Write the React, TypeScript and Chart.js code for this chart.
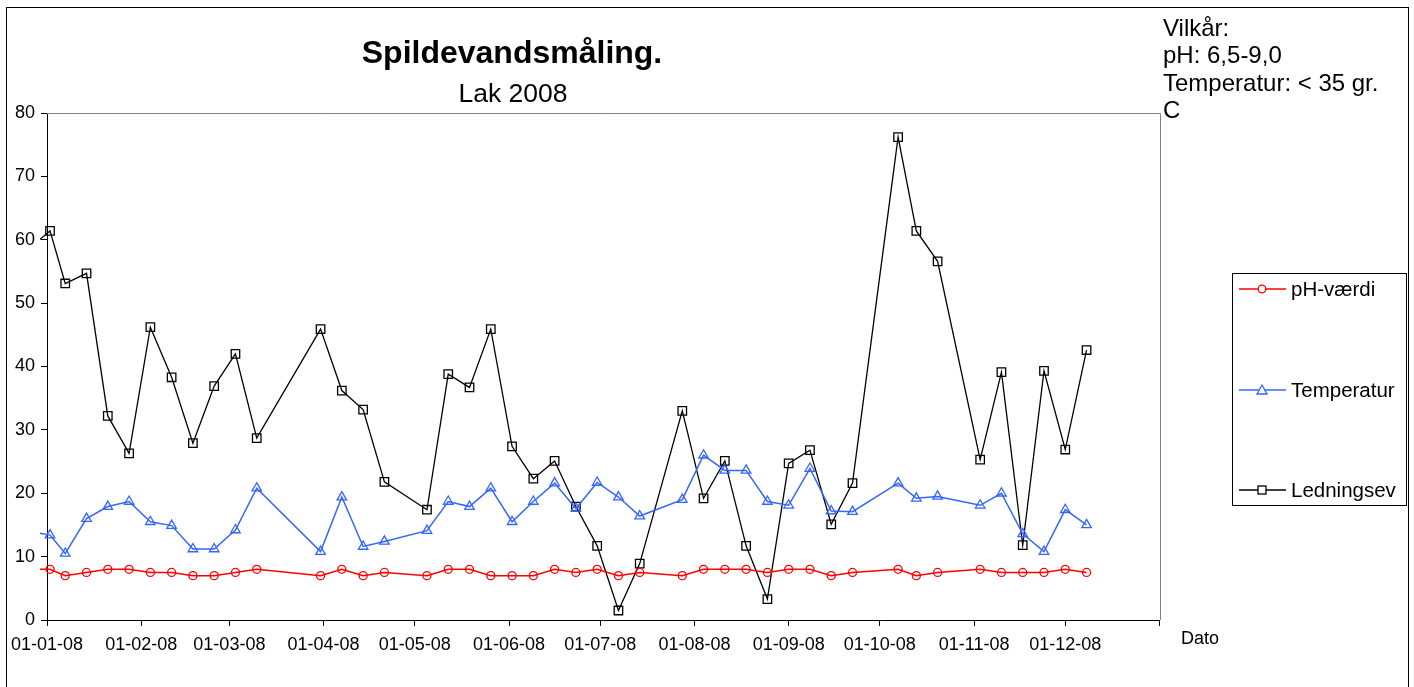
import React, { useEffect, useRef } from "react";
import { Chart, registerables } from "chart.js";

Chart.register(...registerables);

// Measurement dates (DD-MM-YY). The first one lies just before the axis start.
const DATES = [
  "27-12-07",
  "02-01-08", "07-01-08", "14-01-08", "21-01-08", "28-01-08",
  "04-02-08", "11-02-08", "18-02-08", "25-02-08",
  "03-03-08", "10-03-08", "31-03-08",
  "07-04-08", "14-04-08", "21-04-08",
  "05-05-08", "12-05-08", "19-05-08", "26-05-08",
  "02-06-08", "09-06-08", "16-06-08", "23-06-08", "30-06-08",
  "07-07-08", "14-07-08", "28-07-08",
  "04-08-08", "11-08-08", "18-08-08", "25-08-08",
  "01-09-08", "08-09-08", "15-09-08", "22-09-08",
  "07-10-08", "13-10-08", "20-10-08",
  "03-11-08", "10-11-08", "17-11-08", "24-11-08",
  "01-12-08", "08-12-08",
];

const PH_VALUES = [
  8.0,
  8.0, 7.0, 7.5, 8.0, 8.0,
  7.5, 7.5, 7.0, 7.0,
  7.5, 8.0, 7.0,
  8.0, 7.0, 7.5,
  7.0, 8.0, 8.0, 7.0,
  7.0, 7.0, 8.0, 7.5, 8.0,
  7.0, 7.5, 7.0,
  8.0, 8.0, 8.0, 7.5,
  8.0, 8.0, 7.0, 7.5,
  8.0, 7.0, 7.5,
  8.0, 7.5, 7.5, 7.5,
  8.0, 7.5,
];

const TEMP_VALUES = [
  13.9,
  13.4, 10.5, 16.0, 17.9, 18.7,
  15.5, 14.9, 11.2, 11.2,
  14.2, 20.8, 10.8,
  19.4, 11.6, 12.4,
  14.1, 18.7, 17.9, 20.8,
  15.5, 18.7, 21.6, 17.6, 21.7,
  19.4, 16.4, 19.0,
  26.0, 23.6, 23.6, 18.7,
  18.1, 23.9, 17.2, 17.1,
  21.6, 19.2, 19.5,
  18.1, 20.0, 13.6, 10.8,
  17.4, 15.0,
];

const LEDNING_VALUES = [
  59.0,
  61.4, 53.1, 54.7, 32.2, 26.3,
  46.2, 38.3, 27.9, 36.9,
  42.0, 28.7, 45.9,
  36.2, 33.2, 21.8,
  17.4, 38.8, 36.7, 45.9,
  27.4, 22.3, 25.1, 17.9, 11.7,
  1.5, 8.9, 33.0,
  19.2, 25.1, 11.7, 3.3,
  24.7, 26.8, 15.1, 21.6,
  76.2, 61.4, 56.6,
  25.3, 39.1, 11.8, 39.3,
  26.9, 42.6,
];

const X_TICK_LABELS = [
  "01-01-08", "01-02-08", "01-03-08", "01-04-08", "01-05-08", "01-06-08",
  "01-07-08", "01-08-08", "01-09-08", "01-10-08", "01-11-08", "01-12-08",
];
const AXIS_START = "01-01-08";
const AXIS_END = "01-01-09";

const Y_MIN = 0;
const Y_MAX = 80;
const Y_STEP = 10;

const SERIES_NAMES = ["pH-værdi", "Temperatur", "Ledningsev"];

const FONT = "'Liberation Sans', Arial, sans-serif";

function dayOffset(s: string): number {
  const [dd, mm, yy] = s.split("-").map(Number);
  const t = Date.UTC(2000 + yy, mm - 1, dd);
  const [d0, m0, y0] = AXIS_START.split("-").map(Number);
  const t0 = Date.UTC(2000 + y0, m0 - 1, d0);
  return Math.round((t - t0) / 86400000);
}

const framePlugin = {
  id: "plotFrame",
  beforeDatasetsDraw(chart: any) {
    const { ctx, chartArea } = chart;
    ctx.save();
    ctx.strokeStyle = "#808080";
    ctx.lineWidth = 1;
    ctx.beginPath();
    ctx.moveTo(chartArea.left, Math.round(chartArea.top) + 0.5);
    ctx.lineTo(Math.round(chartArea.right) + 0.5, Math.round(chartArea.top) + 0.5);
    ctx.lineTo(Math.round(chartArea.right) + 0.5, chartArea.bottom);
    ctx.stroke();
    ctx.restore();
  },
};

function LegendMarker({ kind, color }: { kind: string; color: string }) {
  return (
    <svg width={48} height={16} style={{ position: "absolute", left: 6, top: -8 }}>
      <line x1={0} y1={8} x2={47} y2={8} stroke={color} strokeWidth={1.5} />
      {kind === "circle" && <circle cx={23} cy={8} r={3.8} fill="white" stroke={color} strokeWidth={1.3} />}
      {kind === "triangle" && (
        <polygon points="23,3 28,12 18,12" fill="white" stroke={color} strokeWidth={1.3} />
      )}
      {kind === "rect" && <rect x={19} y={4} width={8} height={8} fill="white" stroke={color} strokeWidth={1.3} />}
    </svg>
  );
}

export default function App() {
  const canvasRef = useRef<HTMLCanvasElement | null>(null);

  useEffect(() => {
    const canvas = canvasRef.current;
    if (!canvas) return;
    const xs = DATES.map(dayOffset);
    const tickDays = [...X_TICK_LABELS.map(dayOffset), dayOffset(AXIS_END)];
    const clip = { left: 7, top: 8, right: 8, bottom: 8 };

    const chart = new Chart(canvas, {
      type: "line",
      data: {
        datasets: [
          {
            label: SERIES_NAMES[0],
            data: xs.map((x, i) => ({ x, y: PH_VALUES[i] })),
            borderColor: "#FF0000",
            borderWidth: 1.5,
            pointStyle: "circle",
            pointRadius: 4,
            pointBorderWidth: 1.3,
            pointBorderColor: "#FF0000",
            pointBackgroundColor: "rgba(0,0,0,0)",
            tension: 0,
            clip,
          } as any,
          {
            label: SERIES_NAMES[1],
            data: xs.map((x, i) => ({ x, y: TEMP_VALUES[i] })),
            borderColor: "#3366FF",
            borderWidth: 1.5,
            pointStyle: "triangle",
            pointRadius: 5.5,
            pointBorderWidth: 1.3,
            pointBorderColor: "#3366FF",
            pointBackgroundColor: "rgba(0,0,0,0)",
            tension: 0,
            clip,
          } as any,
          {
            label: SERIES_NAMES[2],
            data: xs.map((x, i) => ({ x, y: LEDNING_VALUES[i] })),
            borderColor: "#000000",
            borderWidth: 1.3,
            pointStyle: "rect",
            pointRadius: 6,
            pointBorderWidth: 1.3,
            pointBorderColor: "#000000",
            pointBackgroundColor: "rgba(0,0,0,0)",
            tension: 0,
            clip,
          } as any,
        ],
      },
      options: {
        responsive: false,
        animation: false,
        layout: { padding: { left: 0, top: 113, right: 254.5, bottom: 0 } },
        plugins: {
          legend: { display: false },
          tooltip: { enabled: false },
          title: { display: false },
        },
        scales: {
          x: {
            type: "linear",
            min: 0,
            max: dayOffset(AXIS_END),
            afterBuildTicks: (s: any) => {
              s.ticks = tickDays.map((v) => ({ value: v }));
            },
            afterFit: (s: any) => {
              s.height = 67;
            },
            ticks: {
              autoSkip: false,
              maxRotation: 0,
              minRotation: 0,
              padding: 8,
              color: "#000",
              font: { family: FONT, size: 18 },
              callback: (_v: any, i: number) => X_TICK_LABELS[i] ?? "",
            },
            grid: {
              drawOnChartArea: false,
              drawTicks: true,
              tickLength: 6,
              color: "#000",
              lineWidth: 1,
            },
            border: { display: true, color: "#000", width: 1 },
          },
          y: {
            type: "linear",
            min: Y_MIN,
            max: Y_MAX,
            afterFit: (s: any) => {
              s.width = 47;
            },
            ticks: {
              stepSize: Y_STEP,
              padding: 6,
              color: "#000",
              font: { family: FONT, size: 18 },
            },
            grid: {
              drawOnChartArea: false,
              drawTicks: true,
              tickLength: 6,
              color: "#000",
              lineWidth: 1,
            },
            border: { display: true, color: "#000", width: 1 },
          },
        },
      } as any,
      plugins: [framePlugin],
    });
    return () => chart.destroy();
  }, []);

  const legendItems = [
    { name: SERIES_NAMES[0], kind: "circle", color: "#FF0000", cy: 15.5 },
    { name: SERIES_NAMES[1], kind: "triangle", color: "#3366FF", cy: 116.5 },
    { name: SERIES_NAMES[2], kind: "rect", color: "#000000", cy: 217 },
  ];

  return (
    <div
      style={{
        position: "absolute",
        left: 0,
        top: 0,
        width: 1414,
        height: 687,
        overflow: "hidden",
        background: "#fff",
        fontFamily: FONT,
        color: "#000",
      }}
    >
      <canvas
        ref={canvasRef}
        width={1414}
        height={687}
        style={{ position: "absolute", left: 0, top: 0, display: "block" }}
      />
      <div
        style={{
          position: "absolute",
          left: 6,
          top: 7,
          width: 1403,
          height: 720,
          border: "1px solid #000",
          boxSizing: "border-box",
          pointerEvents: "none",
        }}
      />
      <div
        style={{
          position: "absolute",
          left: 312,
          width: 400,
          top: 33.7,
          textAlign: "center",
          fontWeight: "bold",
          fontSize: 32,
          lineHeight: "37px",
          whiteSpace: "nowrap",
        }}
      >
        Spildevandsmåling.
      </div>
      <div
        style={{
          position: "absolute",
          left: 313,
          width: 400,
          top: 77.5,
          textAlign: "center",
          fontSize: 26.5,
          lineHeight: "30px",
          whiteSpace: "nowrap",
        }}
      >
        Lak 2008
      </div>
      <div
        style={{
          position: "absolute",
          left: 1163,
          top: 13.6,
          fontSize: 24,
          lineHeight: "27.6px",
          whiteSpace: "nowrap",
        }}
      >
        <div>Vilkår:</div>
        <div>pH: 6,5-9,0</div>
        <div>Temperatur: &lt; 35 gr.</div>
        <div>C</div>
      </div>
      <div
        style={{
          position: "absolute",
          left: 1181,
          top: 628.3,
          fontSize: 18,
          lineHeight: "20.7px",
          whiteSpace: "nowrap",
        }}
      >
        Dato
      </div>
      <div
        style={{
          position: "absolute",
          left: 1232,
          top: 273,
          width: 175,
          height: 233,
          border: "1px solid #000",
          boxSizing: "border-box",
          background: "#fff",
        }}
      >
        {legendItems.map((it) => (
          <div key={it.name} style={{ position: "absolute", left: 0, top: it.cy - 1, width: 175, height: 0 }}>
            <LegendMarker kind={it.kind} color={it.color} />
            <div
              style={{
                position: "absolute",
                left: 58,
                top: -12,
                fontSize: 20.5,
                lineHeight: "24px",
                whiteSpace: "nowrap",
              }}
            >
              {it.name}
            </div>
          </div>
        ))}
      </div>
    </div>
  );
}
